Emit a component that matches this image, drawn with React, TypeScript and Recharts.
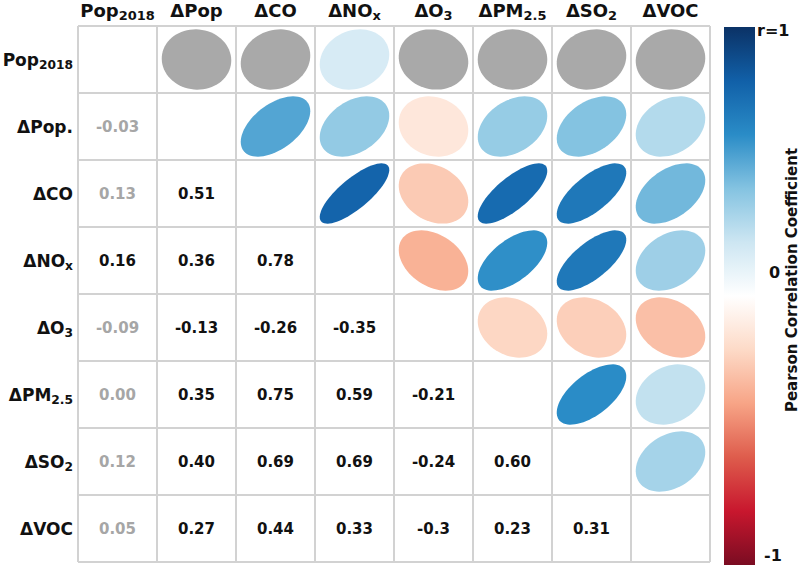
import { ScatterChart, Scatter, XAxis, YAxis, ReferenceLine } from 'recharts';

/**
 * Correlation matrix: ellipses above the diagonal, r values below it.
 */

const COL_LABELS: [string, string][] = [
  ['Pop', '2018'],
  ['ΔPop', ''],
  ['ΔCO', ''],
  ['ΔNO', 'x'],
  ['ΔO', '3'],
  ['ΔPM', '2.5'],
  ['ΔSO', '2'],
  ['ΔVOC', ''],
];

const ROW_LABELS: [string, string][] = [
  ['Pop', '2018'],
  ['ΔPop.', ''],
  ['ΔCO', ''],
  ['ΔNO', 'x'],
  ['ΔO', '3'],
  ['ΔPM', '2.5'],
  ['ΔSO', '2'],
  ['ΔVOC', ''],
];

// lower triangle, row by row (as printed)
const R_POP = ['-0.03'];
const R_CO = ['0.13', '0.51'];
const R_NOX = ['0.16', '0.36', '0.78'];
const R_O3 = ['-0.09', '-0.13', '-0.26', '-0.35'];
const R_PM = ['0.00', '0.35', '0.75', '0.59', '-0.21'];
const R_SO2 = ['0.12', '0.40', '0.69', '0.69', '-0.24', '0.60'];
const R_VOC = ['0.05', '0.27', '0.44', '0.33', '-0.3', '0.23', '0.31'];
const LOWER: string[][] = [[], R_POP, R_CO, R_NOX, R_O3, R_PM, R_SO2, R_VOC];

// [row, col] pairs that are not significant (drawn grey)
const NOT_SIGNIFICANT: [number, number][] = [
  [1, 0],
  [2, 0],
  [4, 0],
  [5, 0],
  [6, 0],
  [7, 0],
];

const CB_TICKS = ['r=1', '0', '-1'];
const CB_TITLE = 'Pearson Correlation Coefficient';

const W = 800;
const H = 565;
const MARGIN = { top: 0, right: 90, bottom: 3, left: 0 };
const X_AXIS_H = 26;
const Y_AXIS_W = 78;
const N = COL_LABELS.length;
const CELL_W = (W - MARGIN.left - MARGIN.right - Y_AXIS_W) / N;
const CELL_H = (H - MARGIN.top - MARGIN.bottom - X_AXIS_H) / N;

const FONT = '"DejaVu Sans", sans-serif';
const GRID = '#d2d2d2';
const GREY_FILL = '#a9a9a9';
const GREY_TEXT = '#a6a6a6';

const STOPS: [number, string][] = [
  [-1, '#7a0c22'],
  [-0.8, '#c8172e'],
  [-0.6, '#de5c4c'],
  [-0.4, '#f7a486'],
  [-0.2, '#fddac7'],
  [0, '#ffffff'],
  [0.2, '#cde6f2'],
  [0.4, '#84c3e1'],
  [0.6, '#2a8cc7'],
  [0.8, '#1160a8'],
  [1, '#0b3266'],
];

function hex(c: string): number[] {
  return [1, 3, 5].map((i) => parseInt(c.slice(i, i + 2), 16));
}

function colorFor(r: number): string {
  for (let i = 0; i < STOPS.length - 1; i++) {
    const [a, ca] = STOPS[i];
    const [b, cb] = STOPS[i + 1];
    if (r >= a && r <= b) {
      const t = (r - a) / (b - a);
      const A = hex(ca);
      const B = hex(cb);
      const m = A.map((v, k) => Math.round(v + (B[k] - v) * t));
      return `rgb(${m[0]},${m[1]},${m[2]})`;
    }
  }
  return STOPS[STOPS.length - 1][1];
}

function isGrey(row: number, col: number): boolean {
  return NOT_SIGNIFICANT.some(([a, b]) => a === row && b === col);
}

const textData: { x: number; y: number; label: string; grey: boolean }[] = [];
const ellipseData: { x: number; y: number; r: number; grey: boolean }[] = [];
LOWER.forEach((vals, row) => {
  vals.forEach((label, col) => {
    textData.push({ x: col + 0.5, y: row + 0.5, label, grey: isGrey(row, col) });
    // mirrored cell above the diagonal
    ellipseData.push({ x: row + 0.5, y: col + 0.5, r: parseFloat(label), grey: isGrey(row, col) });
  });
});

const CENTERS = COL_LABELS.map((_, i) => i + 0.5);
const BOUNDS = Array.from({ length: N + 1 }, (_, i) => i);

function EllipseShape(props: any) {
  const { cx, cy, payload } = props;
  const a = CELL_W * 0.44;
  const b = CELL_H * 0.45;
  const d = Math.acos(Math.max(-1, Math.min(1, payload.r)));
  const pts: string[] = [];
  for (let k = 0; k <= 72; k++) {
    const t = (k / 72) * Math.PI * 2;
    const px = cx + a * Math.cos(t + d / 2);
    const py = cy - b * Math.cos(t - d / 2);
    pts.push(`${px.toFixed(2)},${py.toFixed(2)}`);
  }
  const fill = payload.grey ? GREY_FILL : colorFor(payload.r);
  return <path d={`M${pts.join('L')}Z`} fill={fill} />;
}

function ValueShape(props: any) {
  const { cx, cy, payload } = props;
  return (
    <text
      x={cx}
      y={cy + 5}
      textAnchor="middle"
      fontFamily={FONT}
      fontWeight="bold"
      fontSize={15}
      fill={payload.grey ? GREY_TEXT : '#111'}
    >
      {payload.label}
    </text>
  );
}

function Label({
  x,
  y,
  anchor,
  parts,
  size,
}: {
  x: number;
  y: number;
  anchor: string;
  parts: [string, string];
  size: number;
}) {
  return (
    <text x={x} y={y} textAnchor={anchor} fontFamily={FONT} fontWeight="bold" fontSize={size} fill="#111">
      {parts[0]}
      {parts[1] && (
        <tspan fontSize={size * 0.72} dy={3}>
          {parts[1]}
        </tspan>
      )}
    </text>
  );
}

function ColTick(props: any) {
  const i = Math.floor(props.payload.value);
  return <Label x={props.x} y={17} anchor="middle" parts={COL_LABELS[i]} size={18} />;
}

function RowTick(props: any) {
  const i = Math.floor(props.payload.value);
  return <Label x={73} y={props.y + 6} anchor="end" parts={ROW_LABELS[i]} size={17} />;
}

function ColorBar() {
  const top = 27;
  const bottom = H;
  const mid = (top + bottom) / 2;
  return (
    <svg width={W} height={H} style={{ position: 'absolute', left: 0, top: 0, pointerEvents: 'none' }}>
      <defs>
        <linearGradient id="cb" x1="0" y1="1" x2="0" y2="0">
          {STOPS.map(([v, c]) => (
            <stop key={v} offset={`${((v + 1) / 2) * 100}%`} stopColor={c} />
          ))}
        </linearGradient>
      </defs>
      <rect x={724} y={top} width={31} height={bottom - top} fill="url(#cb)" />
      <g fontFamily={FONT} fontWeight="bold" fill="#111">
        <text x={757} y={36} fontSize={16}>
          {CB_TICKS[0]}
        </text>
        <text x={769} y={mid - 18} fontSize={16}>
          {CB_TICKS[1]}
        </text>
        <text x={764} y={561} fontSize={16}>
          {CB_TICKS[2]}
        </text>
        <text
          x={0}
          y={0}
          fontSize={15}
          textAnchor="middle"
          transform={`translate(797, 280) rotate(-90)`}
        >
          {CB_TITLE}
        </text>
      </g>
    </svg>
  );
}

export default function App() {
  return (
    <div style={{ position: 'absolute', left: 0, top: 0, width: W, height: H, background: '#fff' }}>
      <ScatterChart width={W} height={H} margin={MARGIN}>
        <XAxis
          xAxisId={0}
          type="number"
          dataKey="x"
          domain={[0, N]}
          ticks={CENTERS}
          interval={0}
          orientation="top"
          height={X_AXIS_H}
          axisLine={false}
          tickLine={false}
          tick={ColTick}
        />
        <YAxis
          yAxisId={0}
          type="number"
          dataKey="y"
          domain={[0, N]}
          ticks={CENTERS}
          interval={0}
          reversed
          width={Y_AXIS_W}
          axisLine={false}
          tickLine={false}
          tick={RowTick}
        />
        {BOUNDS.map((v) => (
          <ReferenceLine key={`v${v}`} x={v} stroke={GRID} strokeWidth={2} />
        ))}
        {BOUNDS.map((v) => (
          <ReferenceLine key={`h${v}`} y={v} stroke={GRID} strokeWidth={2} />
        ))}
        <Scatter data={ellipseData} shape={EllipseShape} isAnimationActive={false} />
        <Scatter data={textData} shape={ValueShape} isAnimationActive={false} />
      </ScatterChart>
      <ColorBar />
    </div>
  );
}
